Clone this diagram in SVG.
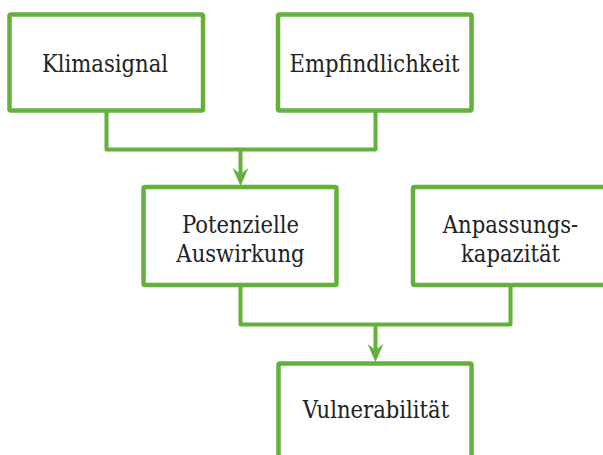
<svg xmlns="http://www.w3.org/2000/svg" width="603" height="455" viewBox="0 0 603 455">
<style>
.box{fill:#ffffff;stroke:#63b03b;stroke-width:4.5}
.ln{fill:none;stroke:#63b03b;stroke-width:4;stroke-linejoin:round}
.ah{fill:#63b03b}
text{font-family:"DejaVu Serif Condensed","DejaVu Serif",serif;font-stretch:condensed;font-size:23.5px;fill:#222222;text-anchor:middle}
</style>
<rect width="603" height="455" fill="#ffffff"/>
<g id="connectors">
<path class="ln" d="M106.5,112 V149.5 H375.5 V112"/>
<path class="ln" d="M240.5,149.5 V176"/>
<path class="ah" d="M240.5,186 L232.5,168 L240.5,174 L248.5,168 Z"/>
<path class="ln" d="M240.5,287 V324.5 H510.5 V287"/>
<path class="ln" d="M375.5,324.5 V352"/>
<path class="ah" d="M375.5,362 L367.5,344 L375.5,350 L383.5,344 Z"/>
</g>
<g id="klimasignal">
<rect class="box" x="9.5" y="14.5" width="193.5" height="96" rx="1.5"/>
<text x="105" y="71.5">Klimasignal</text>
</g>
<g id="empfindlichkeit">
<rect class="box" x="278" y="14.5" width="193.5" height="96" rx="1.5"/>
<text x="374.5" y="71.5">Empfindlichkeit</text>
</g>
<g id="potenzielle-auswirkung">
<rect class="box" x="143.5" y="187" width="193" height="98" rx="1.5"/>
<text x="240.5" y="233">Potenzielle</text>
<text x="240.5" y="261.5">Auswirkung</text>
</g>
<g id="anpassungskapazitaet">
<rect class="box" x="413" y="187" width="193" height="98" rx="1.5"/>
<text x="510.5" y="233">Anpassungs-</text>
<text x="510.5" y="261.5">kapazität</text>
</g>
<g id="vulnerabilitaet">
<rect class="box" x="278.5" y="363.5" width="193" height="98" rx="1.5"/>
<text x="376" y="418">Vulnerabilität</text>
</g>
</svg>
